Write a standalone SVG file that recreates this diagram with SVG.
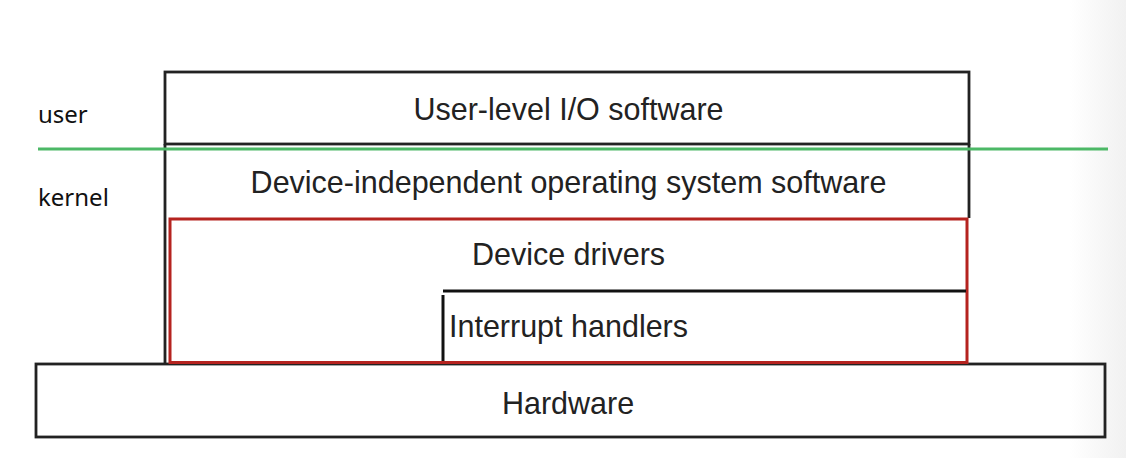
<svg xmlns="http://www.w3.org/2000/svg" width="1126" height="458" viewBox="0 0 1126 458">
  <defs>
    <linearGradient id="edge" x1="0" y1="0" x2="1" y2="0">
      <stop offset="0" stop-color="#ffffff"/>
      <stop offset="1" stop-color="#f1f1f1"/>
    </linearGradient>
    <style>
      .box { fill: none; stroke: #222; stroke-width: 2.8; }
      .red { fill: none; stroke: #b5231f; stroke-width: 3; }
      .div { stroke: #111; stroke-width: 3; fill: none; }
      .lbl { font-family: "Liberation Sans", Arial, Helvetica, sans-serif; font-size: 30.5px; fill: #222; text-anchor: middle; }
      .side { font-family: "Noto Sans", "Open Sans", sans-serif; font-size: 24px; fill: #111; }
    </style>
  </defs>
  <rect x="0" y="0" width="1126" height="458" fill="#ffffff"/>
  <rect x="1070" y="0" width="56" height="458" fill="url(#edge)"/>

  <g id="hardware">
    <rect class="box" x="36" y="364" width="1069" height="73" fill="#fff"/>
    <text class="lbl" x="568" y="414">Hardware</text>
  </g>

  <g id="user-level-io">
    <rect class="box" x="165" y="72" width="804" height="72"/>
    <text class="lbl" x="568.5" y="120">User-level I/O software</text>
  </g>

  <g id="device-independent">
    <path class="box" d="M165,144 L165,364 M969,144 L969,218"/>
    <text class="lbl" x="568.5" y="193">Device-independent operating system software</text>
  </g>

  <g id="device-drivers">
    <rect class="red" x="170" y="219" width="797" height="143.5"/>
    <text class="lbl" x="568.5" y="265">Device drivers</text>
  </g>

  <g id="interrupt-handlers">
    <path class="div" d="M443,291 L966,291"/>
    <path class="div" d="M443,295 L443,361" stroke-width="3.5"/>
    <text class="lbl" x="568.5" y="337">Interrupt handlers</text>
  </g>

  <g id="connectors">
    <line x1="38" y1="149" x2="1108" y2="149" stroke="#4cb866" stroke-width="3"/>
  </g>

  <g id="labels">
    <text class="side" x="38" y="123">user</text>
    <text class="side" x="38" y="206">kernel</text>
  </g>
</svg>
